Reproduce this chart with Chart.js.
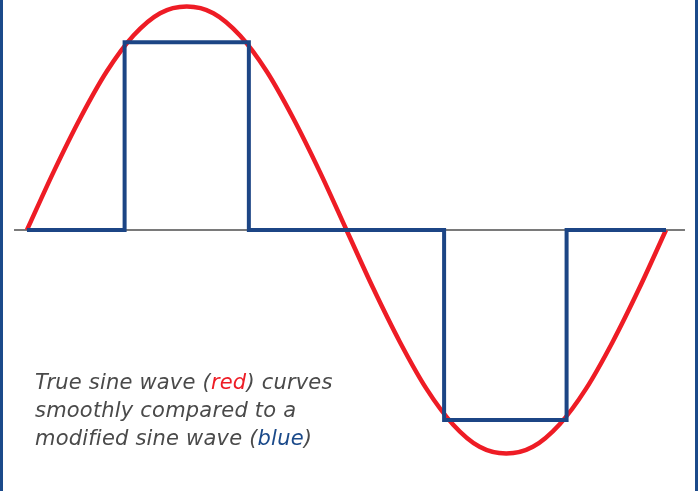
<!DOCTYPE html>
<html>
<head>
<meta charset="utf-8">
<script src="https://cdn.jsdelivr.net/npm/chart.js@4"></script>
<style>
  html, body { margin: 0; padding: 0; background: #ffffff; }
  #wrap { position: relative; width: 699px; height: 491px; overflow: hidden; }
  #wave { position: absolute; left: 0; top: 0; }
  .edge { position: absolute; top: 0; width: 3px; height: 491px; background: #1b4a8a; }
  #caption {
    position: absolute; left: 35px; top: 368px;
    font-family: "DejaVu Sans", sans-serif; font-style: oblique;
    font-size: 21px; line-height: 28px; letter-spacing: 0.2px; color: #4a4a4a;
  }
  #caption .r { color: #ee1c25; }
  #caption .b { color: #1b4a8a; }
</style>
</head>
<body>
<div id="wrap">
  <canvas id="wave" width="699" height="491"></canvas>
  <div class="edge" style="left:0"></div>
  <div class="edge" style="left:695px"></div>
  <div id="caption">True sine wave (<span class="r">red</span>) curves<br>smoothly compared to a<br>modified sine wave (<span class="b">blue</span>)</div>
</div>
<script>
const red = "#ee1c25";
const navy = "#1c4585";
const grey = "#7a7a7a";

// phase in degrees
const sineAngles = [0, 15, 30, 45, 60, 75, 90, 105, 120, 135, 150, 165, 180,
  195, 210, 225, 240, 255, 270, 285, 300, 315, 330, 345, 360];
const sineValues = [0, 0.26, 0.5, 0.71, 0.87, 0.97, 1.0, 0.97, 0.87, 0.71, 0.5, 0.26, 0,
  -0.26, -0.5, -0.71, -0.87, -0.97, -1.0, -0.97, -0.87, -0.71, -0.5, -0.26, 0];

const stepAngles = [0, 55, 55, 125, 125, 235, 235, 304, 304, 360];
const stepValues = [0, 0, 0.84, 0.84, 0, 0, -0.85, -0.85, 0, 0];

const axisAngles = [-7.3, 370.7];

function pairs(xs, ys) {
  return xs.map((x, i) => ({ x: x, y: ys[i] }));
}

new Chart(document.getElementById("wave").getContext("2d"), {
  type: "line",
  data: {
    datasets: [
      {
        label: "modified",
        data: pairs(stepAngles, stepValues),
        borderColor: navy,
        borderWidth: 4,
        pointRadius: 0,
        tension: 0,
        borderJoinStyle: "miter",
        order: 1,
      },
      {
        label: "true",
        data: pairs(sineAngles, sineValues),
        borderColor: red,
        borderWidth: 4.5,
        pointRadius: 0,
        cubicInterpolationMode: "monotone",
        order: 2,
      },
      {
        label: "zero",
        data: pairs(axisAngles, [0, 0]),
        borderColor: grey,
        borderWidth: 2,
        pointRadius: 0,
        order: 3,
      },
    ],
  },
  options: {
    responsive: false,
    animation: false,
    layout: { padding: 0 },
    scales: {
      x: { type: "linear", min: -15.2, max: 378.6, display: false },
      y: { min: -1.168, max: 1.029, display: false },
    },
    plugins: {
      legend: { display: false },
      tooltip: { enabled: false },
    },
  },
});
</script>
</body>
</html>
